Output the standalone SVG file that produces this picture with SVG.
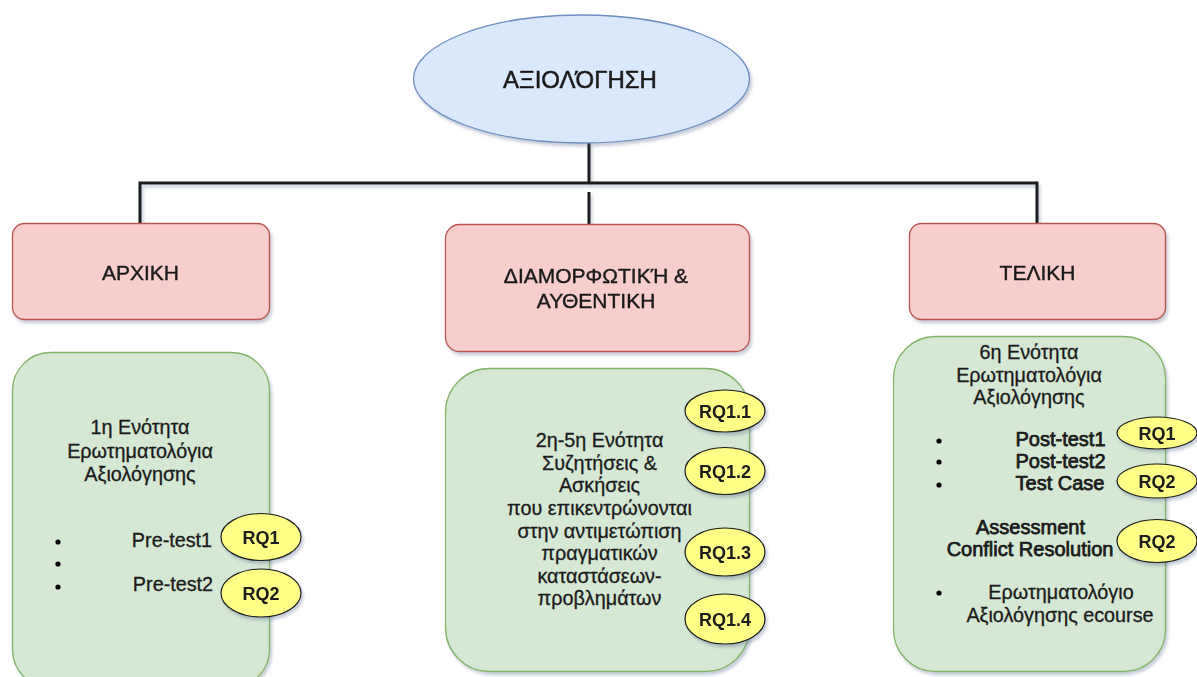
<svg xmlns="http://www.w3.org/2000/svg" width="1197" height="677" viewBox="0 0 1197 677">
<defs>
<filter id="sh" x="-10%" y="-10%" width="125%" height="130%">
<feDropShadow dx="2" dy="3" stdDeviation="1.5" flood-color="#4a5a80" flood-opacity="0.3"/>
</filter>
<style>
text{font-family:"Liberation Sans",Arial,sans-serif;fill:#1a1a1a;stroke:#1a1a1a;stroke-width:0.3;text-anchor:middle}
.blue{fill:#dae8fc;stroke:#6c8ebf;stroke-width:1.3}
.red{fill:#f8cecc;stroke:#b85450;stroke-width:1.3}
.green{fill:#d5e8d4;stroke:#82b366;stroke-width:1.3}
.rq{fill:#ffff88;stroke:#1a1a1a;stroke-width:1.2}
.rqt{font-weight:bold;font-size:18px;stroke-width:0}
.h{font-size:21px;stroke-width:0.4}
.b{font-size:19.8px}
.bb{font-size:20px;stroke-width:0.75}
.dot{fill:#000}
.ln{fill:none;stroke:#1a1a1a;stroke-width:3}
</style>
</defs>
<rect width="1197" height="677" fill="#fff"/>

<g id="connectors" filter="url(#sh)">
<path class="ln" d="M589 143 V183 M140 223 V183 H1037 V223"/>
<path class="ln" d="M589 192 V224" stroke-width="5"/>
</g>

<g id="root" filter="url(#sh)">
<ellipse class="blue" cx="581.5" cy="79" rx="168" ry="64"/>
<text x="580" y="88" style="font-size:24px;stroke-width:0.5">ΑΞΙΟΛΌΓΗΣΗ</text>
</g>

<g id="arxiki" filter="url(#sh)">
<rect class="red" x="12.5" y="223.5" width="257" height="96" rx="12"/>
<text class="h" x="140.5" y="280">ΑΡΧΙΚΗ</text>
</g>

<g id="diamorfotiki" filter="url(#sh)">
<rect class="red" x="445.5" y="224.5" width="304" height="127" rx="14"/>
<text class="h" x="596" y="283">ΔΙΑΜΟΡΦΩΤΙΚΉ &amp;</text>
<text class="h" x="596" y="308">ΑΥΘΕΝΤΙΚΗ</text>
</g>

<g id="teliki" filter="url(#sh)">
<rect class="red" x="909.5" y="223.5" width="256" height="96" rx="12"/>
<text class="h" x="1037.5" y="280">ΤΕΛΙΚΗ</text>
</g>

<g id="enotita1">
<rect class="green" x="12.5" y="352.5" width="257" height="335" rx="38" filter="url(#sh)"/>
<text class="b" x="140" y="434">1η Ενότητα</text>
<text class="b" x="140" y="457.5">Ερωτηματολόγια</text>
<text class="b" x="140" y="481">Αξιολόγησης</text>
<circle class="dot" cx="58" cy="542" r="2.6"/>
<circle class="dot" cx="58" cy="564" r="2.6"/>
<circle class="dot" cx="58" cy="587" r="2.6"/>
<text class="b" x="172" y="547">Pre-test1</text>
<text class="b" x="173" y="591">Pre-test2</text>
</g>
<g id="rq-a1" filter="url(#sh)">
<ellipse class="rq" cx="261" cy="537" rx="40" ry="23.5"/>
<text class="rqt" x="261" y="543.5">RQ1</text>
</g>
<g id="rq-a2" filter="url(#sh)">
<ellipse class="rq" cx="261" cy="593" rx="40" ry="24"/>
<text class="rqt" x="261" y="599.5">RQ2</text>
</g>

<g id="enotita2-5">
<rect class="green" x="445.5" y="368.5" width="304" height="303" rx="44" filter="url(#sh)"/>
<text class="b" x="599.5" y="447">2η-5η Ενότητα</text>
<text class="b" x="599.5" y="469.5">Συζητήσεις &amp;</text>
<text class="b" x="599.5" y="492">Ασκήσεις</text>
<text class="b" x="599.5" y="515">που επικεντρώνονται</text>
<text class="b" x="599.5" y="537.5">στην αντιμετώπιση</text>
<text class="b" x="599.5" y="560">πραγματικών</text>
<text class="b" x="599.5" y="583">καταστάσεων-</text>
<text class="b" x="599.5" y="605">προβλημάτων</text>
</g>
<g id="rq-b1" filter="url(#sh)">
<ellipse class="rq" cx="725" cy="411" rx="40" ry="21"/>
<text class="rqt" x="725" y="417.5">RQ1.1</text>
</g>
<g id="rq-b2" filter="url(#sh)">
<ellipse class="rq" cx="725" cy="471" rx="40" ry="23.5"/>
<text class="rqt" x="725" y="477.5">RQ1.2</text>
</g>
<g id="rq-b3" filter="url(#sh)">
<ellipse class="rq" cx="725" cy="552" rx="40" ry="24"/>
<text class="rqt" x="725" y="558.5">RQ1.3</text>
</g>
<g id="rq-b4" filter="url(#sh)">
<ellipse class="rq" cx="725" cy="619" rx="40" ry="25"/>
<text class="rqt" x="725" y="625.5">RQ1.4</text>
</g>

<g id="enotita6">
<rect class="green" x="893.5" y="336.5" width="272" height="335" rx="42" filter="url(#sh)"/>
<text class="b" x="1029" y="359">6η Ενότητα</text>
<text class="b" x="1029" y="381.5">Ερωτηματολόγια</text>
<text class="b" x="1029" y="404">Αξιολόγησης</text>
<circle class="dot" cx="939" cy="441" r="2.6"/>
<circle class="dot" cx="939" cy="462" r="2.6"/>
<circle class="dot" cx="939" cy="485" r="2.6"/>
<text class="bb" x="1060.5" y="446">Post-test1</text>
<text class="bb" x="1060.5" y="468">Post-test2</text>
<text class="bb" x="1060" y="490">Test Case</text>
<text class="bb" x="1030.5" y="534">Assessment</text>
<text class="bb" x="1030" y="556">Conflict Resolution</text>
<circle class="dot" cx="939" cy="593" r="2.6"/>
<text class="b" x="1061" y="599">Ερωτηματολόγιο</text>
<text class="b" x="1060" y="622">Αξιολόγησης ecourse</text>
</g>
<g id="rq-c1" filter="url(#sh)">
<ellipse class="rq" cx="1157" cy="433" rx="40" ry="16"/>
<text class="rqt" x="1157" y="439.5">RQ1</text>
</g>
<g id="rq-c2" filter="url(#sh)">
<ellipse class="rq" cx="1157" cy="481" rx="40" ry="17"/>
<text class="rqt" x="1157" y="487.5">RQ2</text>
</g>
<g id="rq-c3" filter="url(#sh)">
<ellipse class="rq" cx="1157" cy="541" rx="40" ry="21.5"/>
<text class="rqt" x="1157" y="547.5">RQ2</text>
</g>
</svg>
